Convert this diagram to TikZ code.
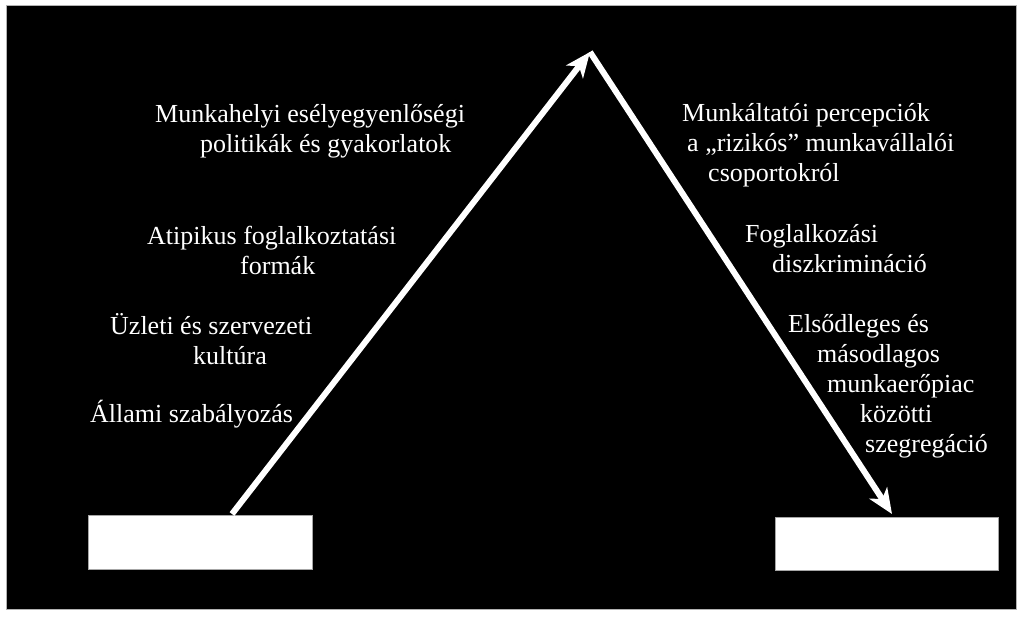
\documentclass[tikz,border=0pt]{standalone}
\usepackage{fontspec}
\setmainfont{Liberation Serif}
\usetikzlibrary{arrows.meta}
\tikzset{
  txt/.style={text=white, font=\fontsize{26}{30}\selectfont, align=left, inner sep=0pt, anchor=base west},
  wbox/.style={draw=gray!70, fill=white, minimum width=224pt, minimum height=54pt, inner sep=0pt, anchor=north west},
  flow/.style={draw=white, line width=6pt, -{Stealth[length=25pt, width=21pt, inset=7pt]}}
}
\begin{document}
\begin{tikzpicture}[x=1pt, y=-1pt]
  \useasboundingbox (0,0) rectangle (1024,616);
  \fill[white] (0,0) rectangle (1024,616);
  \draw[fill=black, draw=gray!60, line width=1pt] (6,5) rectangle (1016,609);
  % dobozok
  \node[wbox] (bal) at (88,515) {};
  \node[wbox, minimum width=223pt, minimum height=53pt] (jobb) at (775,517) {};
  \coordinate (indul) at (232,514);
  \coordinate (csucs) at (590,52);
  \coordinate (erkez) at (892,514);
  % nyilak
  \draw[flow] (indul) -- (csucs);
  \draw[flow] (csucs) -- (erkez);
  % bal oldal (base = utolso sor)
  \node[txt] (eselyegy) at (155,152) {Munkahelyi esélyegyenlőségi\\\hspace*{45pt}politikák és gyakorlatok};
  \node[txt] (atipikus) at (147,274) {Atipikus foglalkoztatási\\\hspace*{93pt}formák};
  \node[txt] (kultura) at (110,364) {Üzleti és szervezeti\\\hspace*{83pt}kultúra};
  \node[txt] (allami) at (90,422) {Állami szabályozás};
  % jobb oldal
  \node[txt] (percep) at (682,181) {Munkáltatói percepciók\\\hspace*{5pt}a „rizikós” munkavállalói\\\hspace*{26pt}csoportokról};
  \node[txt] (diszkr) at (745,272) {Foglalkozási\\\hspace*{27pt}diszkrimináció};
  \node[txt] (szegreg) at (788,452) {Elsődleges és\\\hspace*{29pt}másodlagos\\\hspace*{39pt}munkaerőpiac\\\hspace*{72pt}közötti\\\hspace*{77pt}szegregáció};
\end{tikzpicture}
\end{document}
